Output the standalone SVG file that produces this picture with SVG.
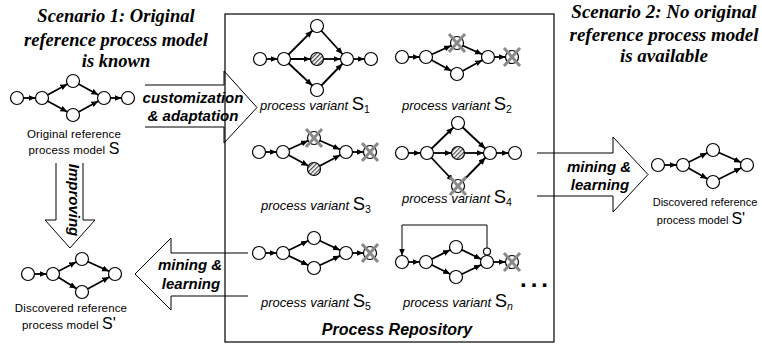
<svg xmlns="http://www.w3.org/2000/svg" xmlns:xlink="http://www.w3.org/1999/xlink" width="762" height="344" viewBox="0 0 762 344">
<style>
.n{fill:#fff;stroke:#000;stroke-width:1.2}
.e{stroke:#000;stroke-width:1.8;fill:none;marker-end:url(#ah)}
.x{stroke:#8a8a8a;stroke-width:3;stroke-linecap:butt}
.ba{fill:#fff;stroke:#000;stroke-width:1}
.bl{font-family:"Liberation Sans",Arial,sans-serif;font-weight:bold;font-style:italic;font-size:15px;text-anchor:middle}
.title{font-family:"Liberation Serif","Times New Roman",serif;font-weight:bold;font-style:italic;font-size:18.5px;text-anchor:middle}
.pv{font-family:"Liberation Sans",Arial,sans-serif;font-style:italic;font-size:13px}
.cap{font-family:"Liberation Sans",Arial,sans-serif;font-size:11.5px;text-anchor:middle;letter-spacing:0.15px}
</style>
<defs>
<marker id="ah" markerUnits="userSpaceOnUse" markerWidth="8" markerHeight="7" refX="13.5" refY="3" orient="auto"><path d="M0,0 L7,3 L0,6z" fill="#000"/></marker>
<pattern id="hatch" patternUnits="userSpaceOnUse" width="3" height="3" patternTransform="rotate(45)"><rect width="3" height="3" fill="#fff"/><line x1="0.6" y1="0" x2="0.6" y2="3" stroke="#444" stroke-width="1.2"/></pattern>
<g id="xm" class="x"><line x1="-8" y1="-9" x2="8" y2="9"/><line x1="8" y1="-9" x2="-8" y2="9"/></g>
</defs>
<rect width="762" height="344" fill="#fff"/>

<g id="scenario1-title" class="title">
<text x="116" y="22">Scenario 1: Original</text>
<text x="116" y="46">reference process model</text>
<text x="116" y="67">is known</text>
</g>
<g id="scenario2-title" class="title" style="font-size:19px">
<text x="664" y="18">Scenario 2: No original</text>
<text x="664" y="41">reference process model</text>
<text x="664" y="62">is available</text>
</g>

<g id="connectors">
<path class="ba" d="M145,85 H224 V71 L257,107.5 L224,143 V127 H145"/>
<text class="bl" x="193" y="103">customization</text>
<text class="bl" x="193" y="121">&amp; adaptation</text>
<path class="ba" d="M56,163 V220 H45 L70,248 L95,220 H83 V163"/>
<text class="bl" transform="translate(68.5,200) rotate(90)" x="0" y="0">Improving</text>
<path class="ba" d="M248,253 H171 V238 L135,274 L171,310 V296 H248"/>
<text class="bl" x="190" y="270">mining &amp;</text>
<text class="bl" x="191" y="289">learning</text>
<path class="ba" d="M537,153 H613 V137 L648,174.5 L613,212 V196 H537"/>
<text class="bl" x="599" y="172">mining &amp;</text>
<text class="bl" x="600" y="190">learning</text>
</g>

<g id="repository">
<rect x="225" y="14" width="329" height="328" fill="none" stroke="#000" stroke-width="1.2"/>
<text x="397" y="335" style="font-family:'Liberation Sans',Arial,sans-serif;font-weight:bold;font-style:italic;font-size:16px;text-anchor:middle">Process Repository</text>
</g>

<g id="model-S">
<line class="e" x1="17" y1="98" x2="42" y2="98"/>
<line class="e" x1="42" y1="98" x2="73" y2="81"/>
<line class="e" x1="42" y1="98" x2="73" y2="115"/>
<line class="e" x1="73" y1="81" x2="104" y2="98"/>
<line class="e" x1="73" y1="115" x2="104" y2="98"/>
<line class="e" x1="104" y1="98" x2="128" y2="98"/>
<circle class="n" cx="17" cy="98" r="6.5"/><circle class="n" cx="42" cy="98" r="6.5"/>
<circle class="n" cx="73" cy="81" r="6.5"/><circle class="n" cx="73" cy="115" r="6.5"/>
<circle class="n" cx="104" cy="98" r="6.5"/><circle class="n" cx="128" cy="98" r="6.5"/>
<text class="cap" x="74" y="138">Original reference</text>
<text class="cap" x="74" y="154">process model <tspan style="font-size:16px">S</tspan></text>
</g>

<g id="model-S-prime-left">
<line class="e" x1="28" y1="274" x2="53" y2="274"/>
<line class="e" x1="53" y1="274" x2="82" y2="259"/>
<line class="e" x1="53" y1="274" x2="82" y2="292"/>
<line class="e" x1="82" y1="259" x2="115" y2="274"/>
<line class="e" x1="82" y1="292" x2="115" y2="274"/>
<circle class="n" cx="28" cy="274" r="6.5"/><circle class="n" cx="53" cy="274" r="6.5"/>
<circle class="n" cx="82" cy="259" r="6.5"/><circle class="n" cx="82" cy="292" r="6.5"/>
<circle class="n" cx="115" cy="274" r="6.5"/>
<text class="cap" x="71" y="312">Discovered reference</text>
<text class="cap" x="69" y="329">process model <tspan style="font-size:16px">S'</tspan></text>
</g>

<g id="model-S-prime-right">
<line class="e" x1="658" y1="165" x2="683" y2="165"/>
<line class="e" x1="683" y1="165" x2="713" y2="150"/>
<line class="e" x1="683" y1="165" x2="713" y2="182"/>
<line class="e" x1="713" y1="150" x2="747" y2="165"/>
<line class="e" x1="713" y1="182" x2="747" y2="165"/>
<circle class="n" cx="658" cy="165" r="6.5"/><circle class="n" cx="683" cy="165" r="6.5"/>
<circle class="n" cx="713" cy="150" r="6.5"/><circle class="n" cx="713" cy="182" r="6.5"/>
<circle class="n" cx="747" cy="165" r="6.5"/>
<text class="cap" x="705" y="206" style="font-size:11px;letter-spacing:0">Discovered reference</text>
<text class="cap" x="701" y="224" style="font-size:11px;letter-spacing:0">process model <tspan style="font-size:16px">S'</tspan></text>
</g>

<g id="variant-S1">
<line class="e" x1="260" y1="59" x2="284" y2="59"/>
<line class="e" x1="284" y1="59" x2="317" y2="26"/>
<line class="e" x1="284" y1="59" x2="317" y2="59"/>
<line class="e" x1="284" y1="59" x2="317" y2="90"/>
<line class="e" x1="317" y1="26" x2="347" y2="59"/>
<line class="e" x1="317" y1="59" x2="347" y2="59"/>
<line class="e" x1="317" y1="90" x2="347" y2="59"/>
<line class="e" x1="347" y1="59" x2="371" y2="59"/>
<circle class="n" cx="260" cy="59" r="6.5"/><circle class="n" cx="284" cy="59" r="6.5"/>
<circle class="n" cx="317" cy="26" r="6.5"/><circle class="n" cx="317" cy="59" r="6.5" fill="url(#hatch)" style="fill:url(#hatch)"/>
<circle class="n" cx="317" cy="90" r="6.5"/><circle class="n" cx="347" cy="59" r="6.5"/>
<circle class="n" cx="371" cy="59" r="6.5"/>
<text class="pv" x="260" y="110">process variant <tspan style="font-size:18.5px;font-style:normal">S</tspan><tspan style="font-size:10.5px;font-style:normal" dy="3">1</tspan></text>
</g>

<g id="variant-S2">
<line class="e" x1="402" y1="57" x2="426" y2="57"/>
<line class="e" x1="426" y1="57" x2="457" y2="43"/>
<line class="e" x1="426" y1="57" x2="457" y2="74"/>
<line class="e" x1="457" y1="43" x2="488" y2="57"/>
<line class="e" x1="457" y1="74" x2="488" y2="57"/>
<line class="e" x1="488" y1="57" x2="512" y2="57"/>
<circle class="n" cx="402" cy="57" r="6.5"/><circle class="n" cx="426" cy="57" r="6.5"/>
<circle class="n" cx="457" cy="43" r="6.5"/><circle class="n" cx="457" cy="74" r="6.5"/>
<circle class="n" cx="488" cy="57" r="6.5"/><circle class="n" cx="512" cy="57" r="6.5"/>
<use xlink:href="#xm" href="#xm" x="457" y="43"/><use xlink:href="#xm" href="#xm" x="512" y="57"/>
<text class="pv" x="402" y="110">process variant <tspan style="font-size:18.5px;font-style:normal">S</tspan><tspan style="font-size:10.5px;font-style:normal" dy="3">2</tspan></text>
</g>

<g id="variant-S3">
<line class="e" x1="259" y1="152" x2="283" y2="152"/>
<line class="e" x1="283" y1="152" x2="314" y2="138"/>
<line class="e" x1="283" y1="152" x2="314" y2="169"/>
<line class="e" x1="314" y1="138" x2="346" y2="152"/>
<line class="e" x1="314" y1="169" x2="346" y2="152"/>
<line class="e" x1="346" y1="152" x2="370" y2="152"/>
<circle class="n" cx="259" cy="152" r="6.5"/><circle class="n" cx="283" cy="152" r="6.5"/>
<circle class="n" cx="314" cy="138" r="6.5"/><circle class="n" cx="314" cy="169" r="6.5" style="fill:url(#hatch)"/>
<circle class="n" cx="346" cy="152" r="6.5"/><circle class="n" cx="370" cy="152" r="6.5"/>
<use xlink:href="#xm" href="#xm" x="314" y="138"/><use xlink:href="#xm" href="#xm" x="370" y="152"/>
<text class="pv" x="261" y="210">process variant <tspan style="font-size:18.5px;font-style:normal">S</tspan><tspan style="font-size:10.5px;font-style:normal" dy="3">3</tspan></text>
</g>

<g id="variant-S4">
<line class="e" x1="402" y1="153" x2="427" y2="153"/>
<line class="e" x1="427" y1="153" x2="458" y2="123"/>
<line class="e" x1="427" y1="153" x2="458" y2="153"/>
<line class="e" x1="427" y1="153" x2="458" y2="186"/>
<line class="e" x1="458" y1="123" x2="490" y2="153"/>
<line class="e" x1="458" y1="153" x2="490" y2="153"/>
<line class="e" x1="458" y1="186" x2="490" y2="153"/>
<line class="e" x1="490" y1="153" x2="515" y2="153"/>
<circle class="n" cx="402" cy="153" r="6.5"/><circle class="n" cx="427" cy="153" r="6.5"/>
<circle class="n" cx="458" cy="123" r="6.5"/><circle class="n" cx="458" cy="153" r="6.5" style="fill:url(#hatch)"/>
<circle class="n" cx="458" cy="186" r="6.5"/><circle class="n" cx="490" cy="153" r="6.5"/>
<circle class="n" cx="515" cy="153" r="6.5"/>
<use xlink:href="#xm" href="#xm" x="458" y="186"/>
<text class="pv" x="402" y="203">process variant <tspan style="font-size:18.5px;font-style:normal">S</tspan><tspan style="font-size:10.5px;font-style:normal" dy="3">4</tspan></text>
</g>

<g id="variant-S5">
<line class="e" x1="259" y1="253" x2="283" y2="253"/>
<line class="e" x1="283" y1="253" x2="314" y2="238"/>
<line class="e" x1="283" y1="253" x2="314" y2="268"/>
<line class="e" x1="314" y1="238" x2="346" y2="253"/>
<line class="e" x1="314" y1="268" x2="346" y2="253"/>
<line class="e" x1="346" y1="253" x2="370" y2="253"/>
<circle class="n" cx="259" cy="253" r="6.5"/><circle class="n" cx="283" cy="253" r="6.5"/>
<circle class="n" cx="314" cy="238" r="6.5"/><circle class="n" cx="314" cy="268" r="6.5"/>
<circle class="n" cx="346" cy="253" r="6.5"/><circle class="n" cx="370" cy="253" r="6.5"/>
<use xlink:href="#xm" href="#xm" x="370" y="253"/>
<text class="pv" x="261" y="307">process variant <tspan style="font-size:18.5px;font-style:normal">S</tspan><tspan style="font-size:10.5px;font-style:normal" dy="3">5</tspan></text>
</g>

<g id="variant-Sn">
<path class="e" style="stroke-width:1" d="M487,248 V225 H402 V262"/>
<line class="e" x1="402" y1="262" x2="426" y2="262"/>
<line class="e" x1="426" y1="262" x2="456" y2="247"/>
<line class="e" x1="426" y1="262" x2="456" y2="277"/>
<line class="e" x1="456" y1="247" x2="487" y2="262"/>
<line class="e" x1="456" y1="277" x2="487" y2="262"/>
<line class="e" x1="487" y1="262" x2="512" y2="262"/>
<circle class="n" cx="402" cy="262" r="6.5"/><circle class="n" cx="426" cy="262" r="6.5"/>
<circle class="n" cx="456" cy="247" r="6.5"/><circle class="n" cx="456" cy="277" r="6.5"/>
<circle class="n" cx="487" cy="262" r="6.5"/><circle class="n" cx="512" cy="262" r="6.5"/>
<circle class="n" cx="487" cy="251.5" r="3.5"/>
<use xlink:href="#xm" href="#xm" x="512" y="262"/>
<text class="pv" x="403" y="307">process variant <tspan style="font-size:18.5px;font-style:normal">S</tspan><tspan style="font-size:10.5px;font-style:italic" dy="3">n</tspan></text>
</g>

<g id="ellipsis">
<text x="520" y="287" style="font-family:'Liberation Sans',Arial,sans-serif;font-weight:bold;font-size:24px;letter-spacing:4px">...</text>
</g>
</svg>
